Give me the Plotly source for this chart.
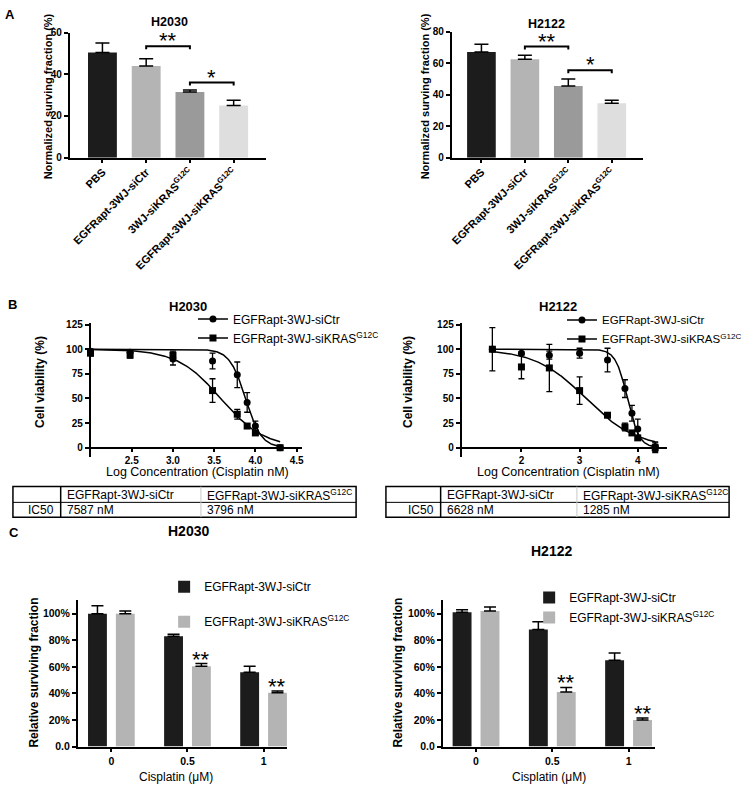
import numpy as np
import plotly.graph_objects as go

W, H = 748, 792
FONT = "Arial, Liberation Sans, sans-serif"

# ---------------- data ----------------
# Panel A: normalized surviving fraction (%)
a_groups = ["PBS", "EGFRapt-3WJ-siCtr", "3WJ-siKRAS<sup>G12C</sup>",
            "EGFRapt-3WJ-siKRAS<sup>G12C</sup>"]
a_h2030_mean = [50.5, 44.0, 31.5, 25.0]
a_h2030_err = [4.5, 3.5, 1.0, 2.5]
a_h2122_mean = [67.0, 62.5, 45.5, 34.5]
a_h2122_err = [5.0, 2.5, 4.5, 2.0]
a_colors = ["#1c1c1c", "#b4b4b4", "#9a9a9a", "#dedede"]
# significance brackets: (from, to, height, label)
a_h2030_sig = [(1, 2, 53.5, "**"), (2, 3, 36.0, "*")]
a_h2122_sig = [(1, 2, 70.5, "**"), (2, 3, 55.5, "*")]

# Panel B: cell viability (%) vs log concentration
b_h2030_logc = [2.0, 2.48, 3.0, 3.48, 3.78, 3.9, 4.0, 4.3]
b_h2030_ctr = [98, 97, 90, 88, 74, 46, 22, 0]
b_h2030_ctr_err = [2, 2, 6, 8, 13, 10, 5, 1]
b_h2030_kras = [96, 94, 94, 58, 34, 22, 15, 0]
b_h2030_kras_err = [3, 3, 4, 12, 5, 2, 2, 1]

b_h2122_logc = [1.5, 2.0, 2.48, 3.0, 3.48, 3.78, 3.9, 4.0, 4.3]
b_h2122_ctr = [100, 96, 94, 96, 89, 60, 35, 19, 1]
b_h2122_ctr_err = [0, 1, 4, 5, 12, 9, 8, 10, 5]
b_h2122_kras = [100, 82, 81, 58, 33, 21, 15, 10, 0]
b_h2122_kras_err = [22, 12, 24, 14, 1, 4, 2, 2, 5]

# fitted dose-response parameters (IC50 in nM, Hill slope)
ic50_h2030 = [7587, 3796]
ic50_h2122 = [6628, 1285]
hill_h2030 = [4.5, 1.65]
hill_h2122 = [4.3, 1.0]

series_names = ["EGFRapt-3WJ-siCtr", "EGFRapt-3WJ-siKRAS<sup>G12C</sup>"]

# Panel C: relative surviving fraction (%)
c_doses = ["0", "0.5", "1"]
c_h2030_ctr = [100, 83, 56]
c_h2030_ctr_err = [6, 1.5, 4.5]
c_h2030_kras = [100, 60.5, 40.5]
c_h2030_kras_err = [2, 2, 1.3]
c_h2122_ctr = [101, 88, 65]
c_h2122_ctr_err = [2, 6, 5.5]
c_h2122_kras = [102, 41, 20]
c_h2122_kras_err = [3, 3.5, 1.5]
c_h2030_sig = ["", "**", "**"]
c_h2122_sig = ["", "**", "**"]


# ---------------- helpers ----------------
def fx(px):
    return px / W


def fy(py):
    return 1 - py / H


def tfont(size, bold=False):
    d = dict(family=FONT, size=size, color="black")
    if bold:
        d["weight"] = "bold"
    return d


base_axis = dict(showline=True, linecolor="black", linewidth=1.5, ticks="outside",
                 tickcolor="black", tickwidth=1.5, ticklen=4, showgrid=False,
                 zeroline=False, fixedrange=True, tickfont=tfont(10, True))

fig = go.Figure()

# ---------------- Panel A ----------------
for xa, ya, means, errs, sig in [("x", "y", a_h2030_mean, a_h2030_err, a_h2030_sig),
                                 ("x2", "y2", a_h2122_mean, a_h2122_err, a_h2122_sig)]:
    fig.add_trace(go.Bar(
        x=list(range(len(a_groups))), y=means, xaxis=xa, yaxis=ya,
        width=0.66, offset=-0.33,
        marker=dict(color=a_colors, line=dict(width=0)),
        error_y=dict(type="data", array=errs, arrayminus=[0] * len(errs),
                     symmetric=False, color="black", thickness=1.5, width=7),
        showlegend=False, hoverinfo="skip"))
    top = 60 if xa == "x" else 80
    tip = top * 0.024
    for i0, i1, h, lab in sig:
        fig.add_trace(go.Scatter(
            x=[i0, i0, i1, i1], y=[h - tip, h, h, h - tip], mode="lines",
            line=dict(color="black", width=2), xaxis=xa, yaxis=ya,
            showlegend=False, hoverinfo="skip"))
        fig.add_annotation(x=(i0 + i1) / 2, y=h, xref=xa, yref=ya, text=lab,
                           showarrow=False, yanchor="bottom", yshift=-9,
                           font=tfont(22))


# ---------------- Panel B ----------------
def logistic(x, logic50, hill):
    return 100.0 / (1.0 + 10 ** ((x - logic50) * hill))


b_sets = [
    ("x3", "y3", "legend", b_h2030_logc, [b_h2030_ctr, b_h2030_kras],
     [b_h2030_ctr_err, b_h2030_kras_err], ic50_h2030, hill_h2030),
    ("x4", "y4", "legend2", b_h2122_logc, [b_h2122_ctr, b_h2122_kras],
     [b_h2122_ctr_err, b_h2122_kras_err], ic50_h2122, hill_h2122),
]
symbols = ["circle", "square"]
for xa, ya, leg, logc, means, errs, ic50s, hills in b_sets:
    xs = np.linspace(min(logc), max(logc), 300)
    for k in range(2):
        fig.add_trace(go.Scatter(
            x=xs, y=logistic(xs, np.log10(ic50s[k]), hills[k]), mode="lines",
            line=dict(color="black", width=1.5), xaxis=xa, yaxis=ya,
            showlegend=False, hoverinfo="skip"))
    for k in range(2):
        fig.add_trace(go.Scatter(
            x=logc, y=means[k], mode="markers", xaxis=xa, yaxis=ya,
            marker=dict(symbol=symbols[k], size=7, color="black"),
            error_y=dict(type="data", array=errs[k], color="black",
                         thickness=1.3, width=3),
            cliponaxis=False, showlegend=False, hoverinfo="skip"))
        fig.add_trace(go.Scatter(
            x=[None], y=[None], mode="lines+markers", xaxis=xa, yaxis=ya,
            marker=dict(symbol=symbols[k], size=7, color="black"),
            line=dict(color="black", width=1.5),
            name=series_names[k], legend=leg, showlegend=True))

# ---------------- Panel C ----------------
c_sets = [("x5", "y5", "legend3", c_h2030_ctr, c_h2030_ctr_err, c_h2030_kras,
           c_h2030_kras_err, c_h2030_sig),
          ("x6", "y6", "legend4", c_h2122_ctr, c_h2122_ctr_err, c_h2122_kras,
           c_h2122_kras_err, c_h2122_sig)]
c_colors = ["#1c1c1c", "#b4b4b4"]
for xa, ya, leg, ctr, ctr_err, kras, kras_err, sig in c_sets:
    for k, (vals, errs, off) in enumerate([(ctr, ctr_err, -0.307), (kras, kras_err, 0.059)]):
        fig.add_trace(go.Bar(
            x=list(range(len(c_doses))), y=vals, xaxis=xa, yaxis=ya,
            width=0.248, offset=off, marker=dict(color=c_colors[k], line=dict(width=0)),
            error_y=dict(type="data", array=errs, arrayminus=[0] * len(errs),
                         symmetric=False, color="black", thickness=1.5, width=6),
            name=series_names[k], legend=leg, legendgroup=leg + str(k),
            showlegend=True, hoverinfo="skip"))
    for i, lab in enumerate(sig):
        if lab:
            fig.add_annotation(x=i + 0.183, y=kras[i] + kras_err[i], xref=xa, yref=ya,
                               text=lab, showarrow=False, yanchor="bottom",
                               yshift=-10, font=tfont(22))

# ---------------- axes ----------------
lay = {}
a_xfont = tfont(11, True)
lay["xaxis"] = dict(base_axis, domain=[fx(68), fx(265)], range=[-0.75, 3.73],
                    tickvals=list(range(4)), ticktext=a_groups, tickangle=-45, anchor="y",
                    tickfont=a_xfont, ticklabelstandoff=-2)
lay["yaxis"] = dict(base_axis, domain=[fy(154), fy(27)], range=[0, 60],
                    tickvals=[0, 20, 40, 60], anchor="x")
lay["xaxis2"] = dict(base_axis, domain=[fx(452), fx(644)], range=[-0.687, 3.709],
                     tickvals=list(range(4)), ticktext=a_groups, tickangle=-45, anchor="y2",
                     tickfont=a_xfont, ticklabelstandoff=-2)
lay["yaxis2"] = dict(base_axis, domain=[fy(154), fy(26)], range=[0, 80],
                     tickvals=[0, 20, 40, 60, 80], anchor="x2")
lay["xaxis3"] = dict(base_axis, domain=[fx(89), fx(302)], range=[2.0, 4.57],
                     tickvals=[2.5, 3.0, 3.5, 4.0, 4.5], tickformat=".1f",
                     anchor="free", position=fy(448.5))
lay["yaxis3"] = dict(base_axis, domain=[fy(457.5), fy(321.5)], range=[-9, 127],
                     tickvals=[0, 25, 50, 75, 100, 125], anchor="x3")
lay["xaxis4"] = dict(base_axis, domain=[fx(462), fx(669)], range=[0.97, 4.51],
                     tickvals=[2, 3, 4], anchor="free", position=fy(448.5))
lay["yaxis4"] = dict(base_axis, domain=[fy(457.5), fy(321.5)], range=[-9, 127],
                     tickvals=[0, 25, 50, 75, 100, 125], anchor="x4")
c_yt = [0, 20, 40, 60, 80, 100]
c_ytt = ["0.0", "20%", "40%", "60%", "80%", "100%"]
lay["xaxis5"] = dict(base_axis, domain=[fx(76), fx(287)], range=[-0.444, 2.314],
                     tickvals=list(range(3)), ticktext=c_doses, anchor="y5",
                     tickfont=tfont(10.5, True))
lay["yaxis5"] = dict(base_axis, domain=[fy(752), fy(603.5)], range=[0, 110],
                     tickvals=c_yt, ticktext=c_ytt, anchor="x5", tickfont=tfont(10.5, True))
lay["xaxis6"] = dict(base_axis, domain=[fx(443), fx(657)], range=[-0.438, 2.353],
                     tickvals=list(range(3)), ticktext=c_doses, anchor="y6",
                     tickfont=tfont(10.5, True))
lay["yaxis6"] = dict(base_axis, domain=[fy(752), fy(603.5)], range=[0, 110],
                     tickvals=c_yt, ticktext=c_ytt, anchor="x6", tickfont=tfont(10.5, True))

leg_common = dict(xanchor="left", yanchor="top", font=tfont(12), bgcolor="rgba(0,0,0,0)",
                  borderwidth=0, itemwidth=30, itemclick=False, itemdoubleclick=False)
lay["legend"] = dict(leg_common, x=fx(192), y=fy(303), tracegroupgap=0)
lay["legend2"] = dict(leg_common, x=fx(563), y=fy(304), tracegroupgap=0,
                      font=tfont(11.5))
lay["legend3"] = dict(leg_common, x=fx(163), y=fy(575), tracegroupgap=16)
lay["legend4"] = dict(leg_common, x=fx(530), y=fy(586), tracegroupgap=1)

fig.update_layout(**lay)


# ---------------- text annotations ----------------
def ann(text, px, py, size=12, bold=False, angle=0, xanchor="center", yanchor="middle"):
    fig.add_annotation(text=text, x=fx(px), y=fy(py), xref="paper", yref="paper",
                       showarrow=False, textangle=angle, xanchor=xanchor,
                       yanchor=yanchor, font=tfont(size, bold))


# panel letters
ann("A", 8, 9, 13, True)
ann("B", 11, 303, 13, True)
ann("C", 12, 535, 13, True)
# titles
ann("H2030", 168, 16, 12.5, True)
ann("H2122", 547, 18, 12.5, True)
ann("H2030", 187, 305, 13, True)
ann("H2122", 559, 305, 13, True)
ann("H2030", 187, 533, 14, True)
ann("H2122", 552, 553, 14, True)
# axis titles
ann("Normalized surving fraction (%)", 46, 92, 11, True, -90)
ann("Normalized surving fraction (%)", 425, 92, 11, True, -90)
ann("Cell viability (%)", 38, 382, 12, True, -90)
ann("Cell viability (%)", 408, 382, 12, True, -90)
ann("Log Concentration (Cisplatin nM)", 197, 473, 12.5)
ann("Log Concentration (Cisplatin nM)", 570, 473, 12.5)
ann("Relative surviving fraction", 32, 677, 12, True, -90)
ann("Relative surviving fraction", 398, 677, 12, True, -90)
ann("Cisplatin (\u03bcM)", 175, 783, 12)
ann("Cisplatin (\u03bcM)", 550, 783, 12)

# ---------------- IC50 tables ----------------
shapes = []
for (x0, c1, c2, x1, ic50s) in [(11, 59, 200, 356, ic50_h2030),
                                (386, 441, 578, 731, ic50_h2122)]:
    y0, ym, y1 = 488, 504, 519
    shapes.append(dict(type="rect", xref="paper", yref="paper", x0=fx(x0), x1=fx(x1),
                       y0=fy(y1), y1=fy(y0), line=dict(color="black", width=1.5)))
    shapes.append(dict(type="line", xref="paper", yref="paper", x0=fx(x0), x1=fx(x1),
                       y0=fy(ym), y1=fy(ym), line=dict(color="black", width=1)))
    shapes.append(dict(type="line", xref="paper", yref="paper", x0=fx(c1), x1=fx(c1),
                       y0=fy(y1), y1=fy(y0), line=dict(color="black", width=1.5)))
    shapes.append(dict(type="line", xref="paper", yref="paper", x0=fx(c2), x1=fx(c2),
                       y0=fy(y1), y1=fy(y0), line=dict(color="#c8c8c8", width=1)))
    ann(series_names[0], c1 + 4, 496.5, 12, xanchor="left")
    ann(series_names[1], c2 + 4, 496.5, 12, xanchor="left")
    ann("IC50", c1 - 5, 512, 12, xanchor="right")
    ann(f"{ic50s[0]} nM", c1 + 4, 512, 12, xanchor="left")
    ann(f"{ic50s[1]} nM", c2 + 4, 512, 12, xanchor="left")

fig.update_layout(shapes=shapes, width=W, height=H, margin=dict(l=0, r=0, t=0, b=0),
                  plot_bgcolor="white", paper_bgcolor="white", barmode="group",
                  font=dict(family=FONT, color="black"))

fig.write_html("out.html", config={"displayModeBar": False},
               post_script="document.body.style.margin='0px';"
                           "document.body.style.padding='0px';")
